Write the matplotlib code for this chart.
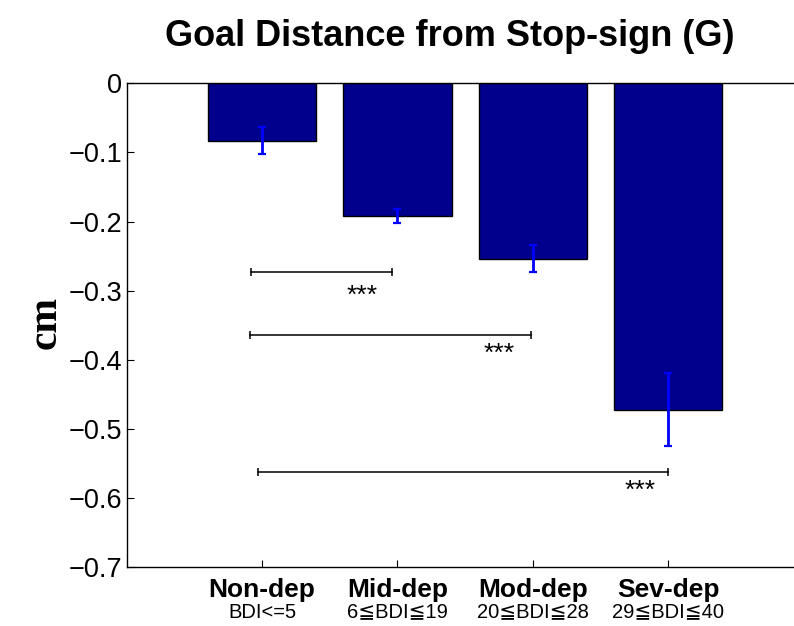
import matplotlib
matplotlib.use("Agg")
import matplotlib.pyplot as plt
import matplotlib.transforms as mtransforms

plt.rcParams['font.family'] = ['Liberation Sans', 'DejaVu Sans']

# Group data
groups = ["Non-dep", "Mid-dep", "Mod-dep", "Sev-dep"]
bdi_ranges = ["BDI<=5", "6\u2266BDI\u226619", "20\u2266BDI\u226628", "29\u2266BDI\u226640"]
means = [-0.083, -0.192, -0.254, -0.472]
errors = [0.0195, 0.010, 0.0195, 0.053]

# Significance brackets: (x start, x end, y level), star label position
brackets = [(0.92, 1.96, -0.2725), (0.91, 2.99, -0.364), (0.97, 4.0, -0.562)]
star_pos = [(1.74, -0.308), (2.75, -0.392), (3.79, -0.589)]
star_text = "***"

yticks = [0, -0.1, -0.2, -0.3, -0.4, -0.5, -0.6, -0.7]

fig = plt.figure(figsize=(7.94, 6.26), dpi=100)
ax = fig.add_axes([0.1595, 0.0938, 0.8525, 0.7731])

x = list(range(1, len(groups) + 1))
ax.bar(x, means, width=0.8, color="#00008C", edgecolor="black", linewidth=1.0, zorder=2)
ax.errorbar(x, means, yerr=errors, fmt="none", ecolor="#0000FF",
            elinewidth=2.0, capsize=3.0, capthick=1.6, zorder=3)

for (x1, x2, yb) in brackets:
    ax.plot([x1, x2], [yb, yb], color="black", linewidth=1.1,
            marker="|", markersize=6, markeredgewidth=1.1, zorder=3)
for (xs, ys) in star_pos:
    ax.text(xs, ys, star_text, ha="center", va="center", fontsize=19, color="black")

ax.set_xlim(0, 5)
ax.set_ylim(-0.7, 0)
ax.set_yticks(yticks)
ax.set_yticklabels(["0" if v == 0 else "\u2212%.1f" % abs(v) for v in yticks], fontsize=19.5)
ax.set_xticks(x)
ax.set_xticklabels(groups, fontsize=19, fontweight="bold")
ax.tick_params(axis="both", direction="in", length=5, width=0.8)
ax.tick_params(axis="x", pad=8)
ax.tick_params(axis="y", pad=3)

trans = mtransforms.blended_transform_factory(ax.transData, fig.transFigure)
for xi, lab in zip(x, bdi_ranges):
    ax.text(xi, 1 - 612 / 626, lab, transform=trans, ha="center", va="center",
            fontsize=14.5, family=["Liberation Sans", "DejaVu Sans"])

ax.spines["right"].set_visible(False)
for side in ["top", "left", "bottom"]:
    ax.spines[side].set_linewidth(1.0)

fig.text(46 / 794, 1 - 322 / 626, "cm", rotation=90, ha="center", va="center",
         family="Liberation Serif", fontweight="bold", fontsize=30)

fig.text(450 / 794, 1 - 37 / 626, "Goal Distance from Stop-sign (G)", ha="center", va="center",
         fontsize=26, fontweight="bold")

fig.savefig("out.png", dpi=100)
